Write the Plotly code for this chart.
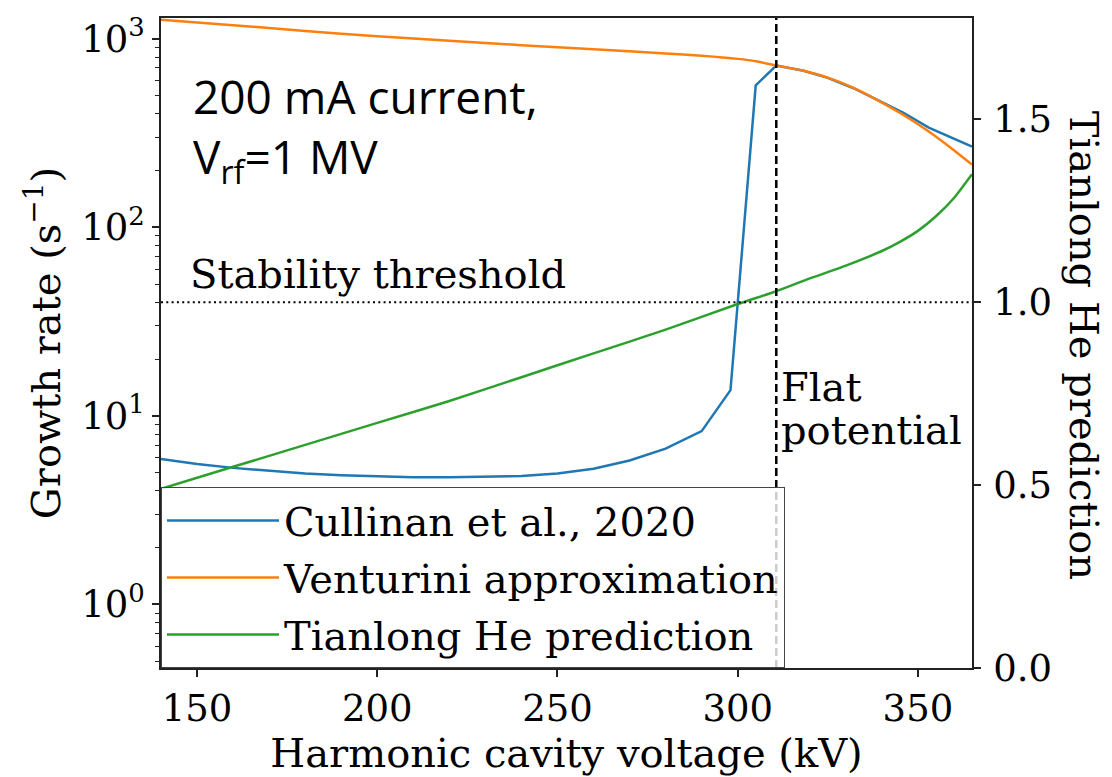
import plotly.graph_objects as go

# ---------------- data ----------------
voltage_cullinan = [140, 150, 160, 170, 180, 190, 200, 210, 220, 230, 240, 250, 260,
                    270, 280, 290, 298, 305, 310.7, 318, 325, 332, 339, 346, 353, 359, 365]
growth_cullinan = [5.9, 5.55, 5.3, 5.1, 4.95, 4.85, 4.78, 4.73, 4.72, 4.74, 4.8, 4.95, 5.25,
                   5.8, 6.7, 8.3, 13.7, 566, 721, 678, 620, 548, 472, 405, 338, 300, 268]

voltage_venturini = [140, 160, 180, 200, 220, 240, 260, 280, 290, 300, 305, 310.7,
                     318, 325, 332, 339, 346, 353, 359, 365]
growth_venturini = [1260, 1180, 1100, 1030, 975, 925, 880, 835, 812, 782, 760, 721,
                    678, 622, 550, 470, 394, 322, 265, 215]

voltage_he = [140, 160, 180, 200, 220, 240, 260, 280, 300, 310.7, 320, 330, 340,
              345, 350, 355, 360, 365]
he_prediction = [0.49, 0.55, 0.61, 0.67, 0.73, 0.795, 0.86, 0.925, 0.995, 1.03, 1.065,
                 1.10, 1.14, 1.165, 1.195, 1.235, 1.285, 1.35]

stability_threshold = 1.0
flat_potential_voltage = 310.7

x_range = [140, 365]
x_ticks = [150, 200, 250, 300, 350]
y_left_range_log = [-0.337, 3.11]
y_left_ticks = [1, 10, 100, 1000]
y_left_ticktext = ["10<sup>0</sup>", "10<sup>1</sup>", "10<sup>2</sup>", "10<sup>3</sup>"]
y_left_minor = [m * 10 ** e for e in range(-1, 4) for m in range(2, 10)]
y_right_range = [0, 1.777]
y_right_ticks = [0.0, 0.5, 1.0, 1.5]

names = ["Cullinan et al., 2020", "Venturini approximation", "Tianlong He prediction"]
colors = ["#1f77b4", "#ff7f0e", "#2ca02c"]

SERIF = "DejaVu Serif"
FS_TICK = 37
FS = 40
AXC = "#222222"

fig = go.Figure()
fig.add_trace(go.Scatter(x=voltage_cullinan, y=growth_cullinan, mode="lines", name=names[0],
                         line=dict(color=colors[0], width=2.5), legendgroup="g1"))
fig.add_trace(go.Scatter(x=voltage_venturini, y=growth_venturini, mode="lines", name=names[1],
                         line=dict(color=colors[1], width=2.5, shape="spline", smoothing=0.6),
                         legendgroup="g2"))
fig.add_trace(go.Scatter(x=voltage_he, y=he_prediction, mode="lines", name=names[2],
                         line=dict(color=colors[2], width=2.5, shape="spline", smoothing=0.6),
                         legendgroup="g3", yaxis="y2"))

# threshold and flat-potential lines
fig.add_shape(type="line", xref="paper", x0=0, x1=1, yref="y2",
              y0=stability_threshold, y1=stability_threshold,
              line=dict(color="black", width=2, dash="2px,3.3px"))
fig.add_shape(type="line", xref="x", x0=flat_potential_voltage, x1=flat_potential_voltage,
              yref="paper", y0=0, y1=1,
              line=dict(color="black", width=2.5, dash="8px,4px"))

fig.add_annotation(text="200 mA current,", xref="paper", yref="paper",
                   x=0.037, y=0.9237, xanchor="left", yanchor="top", align="left", showarrow=False,
                   height=52, valign="middle",
                   font=dict(family="Open Sans", size=46, color="black"))
fig.add_annotation(text="V<sub>rf</sub>=1 MV", xref="paper", yref="paper",
                   x=0.037, y=0.826, xanchor="left", yanchor="top", align="left", showarrow=False,
                   height=52, valign="middle",
                   font=dict(family="Open Sans", size=46, color="black"))
fig.add_annotation(text="Stability threshold", xref="x", yref="y2", x=147.5, y=stability_threshold,
                   xanchor="left", yanchor="bottom", yshift=3, showarrow=False,
                   font=dict(family=SERIF, size=FS, color="black"))
fig.add_annotation(text="Flat", xref="x", yref="paper", x=flat_potential_voltage, y=0.432,
                   xanchor="left", yanchor="middle", xshift=3, showarrow=False,
                   font=dict(family=SERIF, size=FS, color="black"))
fig.add_annotation(text="potential", xref="x", yref="paper", x=flat_potential_voltage, y=0.366,
                   xanchor="left", yanchor="middle", xshift=3, showarrow=False,
                   font=dict(family=SERIF, size=FS, color="black"))
fig.add_annotation(text="Tianlong He prediction", xref="paper", yref="paper", x=1.139, y=0.496,
                   textangle=90, xanchor="center", yanchor="middle", showarrow=False,
                   font=dict(family=SERIF, size=FS, color="black"))

fig.update_layout(
    width=1112, height=777,
    margin=dict(l=161, r=140, t=13, b=109),
    paper_bgcolor="white", plot_bgcolor="white",
    font=dict(family=SERIF, size=FS_TICK, color="black"),
    showlegend=True,
    legend=dict(x=0, y=0, xanchor="left", yanchor="bottom",
                bgcolor="rgba(255,255,255,0.8)", bordercolor="#444444", borderwidth=1,
                font=dict(family=SERIF, size=FS, color="black"),
                traceorder="grouped", tracegroupgap=2, itemwidth=112),
    xaxis=dict(range=x_range, tickvals=x_ticks, ticks="outside", ticklen=7, tickwidth=1.5,
               tickcolor=AXC, showline=True, linecolor=AXC, linewidth=1.5, mirror=True,
               showgrid=False, zeroline=False,
               title=dict(text="Harmonic cavity voltage (kV)", standoff=6,
                          font=dict(family=SERIF, size=FS))),
    yaxis=dict(type="log", range=y_left_range_log, tickvals=y_left_ticks, ticktext=y_left_ticktext,
               ticks="outside", ticklen=7, tickwidth=1.5, tickcolor=AXC,
               minor=dict(tickvals=y_left_minor, ticks="outside", ticklen=4, tickwidth=1, tickcolor=AXC),
               showline=True, linecolor=AXC, linewidth=1.5, showgrid=False, zeroline=False,
               title=dict(text="Growth rate (s<sup>−1</sup>)", standoff=8,
                          font=dict(family=SERIF, size=FS))),
    yaxis2=dict(overlaying="y", side="right", range=y_right_range, tickvals=y_right_ticks,
                tickformat=".1f", ticks="outside", ticklen=7, tickwidth=1.5, tickcolor=AXC,
                ticklabelstandoff=5,
                showline=True, linecolor=AXC, linewidth=1.5, showgrid=False, zeroline=False),
)

fig.write_html("out.html")
